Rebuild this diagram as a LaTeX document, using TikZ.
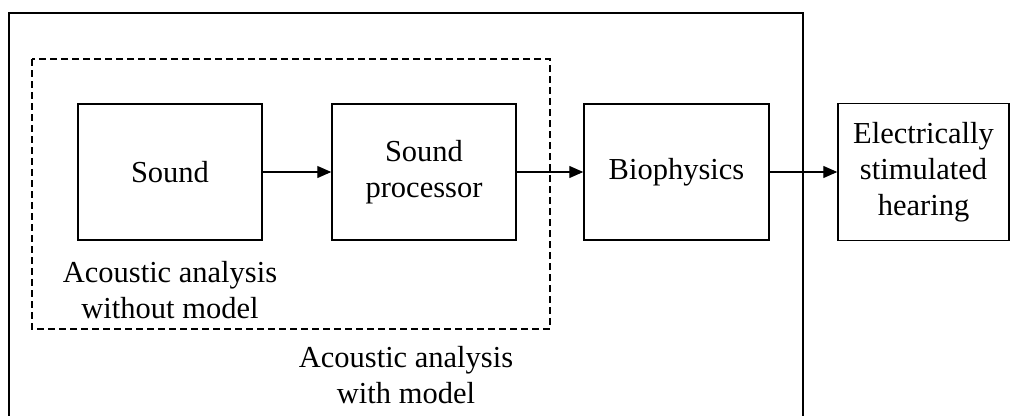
\documentclass[tikz,border=0pt]{standalone}
\usepackage{fontspec}
\setmainfont{Liberation Serif}
\usetikzlibrary{arrows.meta}
\begin{document}
\begin{tikzpicture}[x=1pt,y=-1pt,
  blockbox/.style={draw,line width=1.5pt,minimum width=184pt,minimum height=136pt,inner sep=2pt,align=center,font=\fontsize{30.5}{36}\selectfont},
  lbl/.style={align=center,inner sep=0pt,font=\fontsize{30.5}{36}\selectfont},
  conn/.style={line width=1.2pt,-{Triangle[length=14pt,width=12pt]}},
  frame/.style={line width=1.5pt},
  dashframe/.style={line width=1.5pt,dash pattern=on 7pt off 4pt}]
\useasboundingbox (0,0) rectangle (1011,415);
\draw[frame] (9,13) rectangle (803,420);
\draw[dashframe] (32,59) rectangle (550,329);
\node[blockbox] (sound) at (170,172) {Sound};
\node[blockbox] (proc) at (424,172) {Sound\\processor};
\node[blockbox,minimum width=185pt] (bio) at (676.5,172) {Biophysics};
\node[blockbox,minimum width=171pt,minimum height=137pt] (esh) at (923.5,172) {Electrically\\stimulated\\hearing};
\node[lbl] (wo) at (170,290) {Acoustic analysis\\without model};
\node[lbl] (wm) at (406,375) {Acoustic analysis\\with model};
\draw[conn] (sound.east) -- (proc.west);
\draw[conn] (proc.east) -- (bio.west);
\draw[conn] (bio.east) -- (esh.west);
\end{tikzpicture}
\end{document}
